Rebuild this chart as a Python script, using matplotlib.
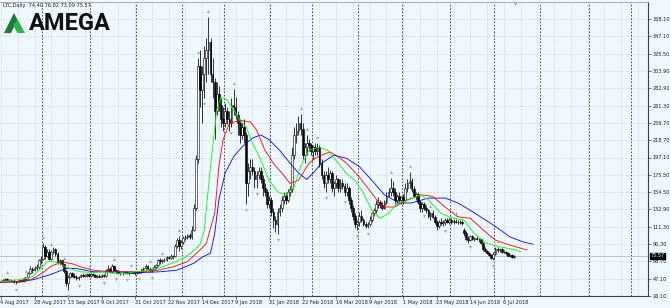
import matplotlib
matplotlib.use('Agg')
import matplotlib.pyplot as plt
from matplotlib.patches import Polygon
import numpy as np

# LTC daily candles (weekday bars, 4 Aug 2017 .. 13 Jul 2018)
opens = [44, 45, 46, 47, 46, 46, 45, 43, 44, 45, 46, 45, 47, 49, 55, 60, 58, 61, 62, 70,
         72, 86, 76, 80, 72, 81, 84, 78, 68, 70, 65, 57, 42, 50, 55, 51, 50, 48, 50, 52,
         51, 52, 53, 51, 53, 52, 50, 51, 50, 52, 51, 58, 60, 56, 63, 58, 57, 55, 54, 55,
         56, 54, 55, 56, 55, 54, 55, 56, 59, 61, 63, 60, 58, 60, 62, 64, 70, 69, 71, 70,
         74, 73, 76, 75, 88, 95, 88, 93, 98, 99, 101, 99, 108, 135, 195, 310, 280, 300, 320, 330,
         340, 300, 290, 255, 275, 262, 245, 240, 255, 245, 240, 262, 260, 250, 240, 225, 235, 225, 165, 180,
         185, 180, 170, 175, 180, 170, 160, 155, 140, 145, 130, 120, 115, 130, 135, 145, 150, 145, 155, 158,
         200, 225, 230, 240, 232, 200, 210, 215, 212, 205, 210, 205, 210, 190, 175, 165, 175, 170, 178, 160,
         165, 170, 160, 165, 162, 155, 160, 145, 135, 125, 115, 117, 125, 120, 115, 113, 115, 120, 128, 132,
         140, 142, 138, 135, 142, 150, 155, 160, 155, 145, 150, 145, 148, 145, 160, 165, 168, 158, 150, 152,
         142, 135, 140, 135, 132, 125, 128, 124, 118, 112, 118, 116, 118, 120, 118, 120, 118, 119, 118, 117,
         118, 108, 104, 97, 95, 100, 96, 98, 97, 96, 92, 84, 82, 79, 77, 73, 78, 84, 83, 84,
         81, 80, 79, 76, 77, 74.40]
highs = [46, 47, 48, 48, 47, 47, 47, 45, 46, 47, 47, 49, 50, 56, 63, 62, 63, 66, 72, 76,
         91, 89, 84, 84, 83, 86, 85, 80, 72, 71, 66, 58, 52, 56, 56, 54, 52, 51, 53, 54,
         53, 54, 55, 54, 55, 53, 52, 53, 53, 53, 60, 64, 62, 66, 64, 60, 58, 56, 56, 57,
         57, 56, 57, 57, 56, 56, 57, 60, 62, 65, 64, 62, 61, 64, 66, 72, 73, 72, 73, 76,
         76, 78, 77, 90, 98, 100, 95, 100, 102, 103, 104, 112, 140, 200, 320, 330, 310, 335, 345, 371,
         345, 320, 295, 290, 285, 270, 260, 265, 260, 255, 270, 282, 272, 255, 245, 240, 245, 228, 190, 195,
         195, 185, 180, 185, 185, 175, 165, 158, 150, 148, 135, 125, 135, 140, 150, 155, 155, 158, 162, 210,
         235, 240, 248, 251, 240, 215, 225, 220, 215, 212, 215, 215, 212, 195, 180, 180, 185, 182, 180, 168,
         175, 172, 170, 170, 165, 165, 162, 148, 138, 128, 120, 130, 132, 122, 118, 118, 125, 130, 135, 145,
         148, 145, 142, 145, 155, 160, 172, 168, 160, 152, 155, 150, 152, 165, 170, 179, 172, 162, 155, 155,
         145, 142, 142, 138, 134, 130, 132, 126, 120, 120, 122, 120, 122, 123, 122, 122, 121, 121, 120, 120,
         120, 110, 106, 100, 102, 101, 99, 100, 98, 97, 93, 86, 83, 80, 78, 80, 86, 86, 85, 85,
         83, 82, 80, 78, 78, 76.82]
lows = [43, 44, 45, 45, 45, 44, 42, 41, 43, 44, 43, 44, 45, 48, 53, 55, 57, 58, 60, 66,
        70, 72, 74, 70, 70, 78, 76, 66, 64, 63, 55, 38, 33, 48, 49, 48, 46, 46, 49, 50,
        49, 50, 50, 50, 51, 49, 48, 49, 49, 50, 50, 56, 55, 55, 57, 55, 53, 52, 52, 53,
        53, 52, 54, 54, 52, 53, 54, 55, 57, 60, 59, 56, 56, 59, 60, 63, 66, 67, 68, 69,
        72, 72, 72, 74, 85, 82, 84, 90, 95, 96, 96, 97, 106, 132, 190, 260, 240, 270, 290, 300,
        290, 270, 220, 250, 255, 235, 230, 235, 238, 230, 235, 250, 245, 225, 215, 220, 215, 140, 150, 170,
        175, 160, 160, 170, 165, 150, 150, 135, 135, 125, 110, 105, 103, 125, 130, 140, 140, 142, 150, 155,
        195, 215, 225, 225, 195, 190, 200, 205, 200, 195, 200, 200, 185, 170, 160, 155, 165, 165, 155, 150,
        160, 155, 155, 158, 150, 150, 140, 130, 120, 110, 108, 112, 118, 112, 110, 110, 112, 118, 125, 128,
        135, 135, 132, 133, 140, 148, 150, 150, 140, 140, 142, 140, 140, 143, 155, 160, 155, 148, 145, 140,
        130, 130, 132, 128, 122, 120, 122, 115, 108, 110, 114, 112, 114, 116, 115, 115, 115, 116, 115, 115,
        114, 100, 95, 92, 94, 95, 94, 95, 93, 90, 82, 80, 78, 76, 72, 70, 77, 81, 81, 79,
        79, 77, 75, 74, 73, 73.09]
closes = [45, 46, 47, 46, 46, 45, 43, 44, 45, 46, 45, 47, 49, 55, 60, 58, 61, 62, 70, 72,
          86, 76, 80, 72, 81, 84, 78, 68, 70, 65, 57, 42, 50, 55, 51, 50, 48, 50, 52, 51,
          52, 53, 51, 53, 52, 50, 51, 50, 52, 51, 58, 60, 56, 63, 58, 57, 55, 54, 55, 56,
          54, 55, 56, 55, 54, 55, 56, 59, 61, 63, 60, 58, 60, 62, 64, 70, 69, 71, 70, 74,
          73, 76, 75, 88, 95, 88, 93, 98, 99, 101, 99, 108, 135, 195, 310, 280, 300, 320, 330, 340,
          300, 290, 255, 275, 262, 245, 240, 255, 245, 240, 262, 260, 250, 240, 225, 235, 225, 165, 180, 185,
          180, 170, 175, 180, 170, 160, 155, 140, 145, 130, 120, 115, 130, 135, 145, 150, 145, 155, 158, 200,
          225, 230, 240, 232, 200, 210, 215, 212, 205, 210, 205, 210, 190, 175, 165, 175, 170, 178, 160, 165,
          170, 160, 165, 162, 155, 160, 145, 135, 125, 115, 117, 125, 120, 115, 113, 115, 120, 128, 132, 140,
          142, 138, 135, 142, 150, 155, 160, 155, 145, 150, 145, 148, 145, 160, 165, 168, 158, 150, 152, 142,
          135, 140, 135, 132, 125, 128, 124, 118, 112, 118, 116, 118, 120, 118, 120, 118, 119, 118, 117, 118,
          116, 104, 97, 95, 100, 96, 98, 97, 96, 92, 84, 82, 79, 77, 73, 78, 84, 83, 84, 81,
          80, 79, 76, 77, 74.4, 75.57]

# Alligator lines (bar index, price)
lips_x = [0, 8, 15, 19, 22, 25, 28, 31, 35, 38, 44, 48, 52, 56, 60, 64, 68, 72, 76, 80, 84, 88, 92, 95,
          97, 100, 103, 105, 108, 111, 114, 117, 120, 124, 128, 132, 136, 140, 143, 147, 152, 156, 161,
          165, 169, 173, 177, 181, 185, 189, 195, 200, 204, 210, 216, 221, 226, 232, 238, 244, 248]
lips_y = [43.8, 46, 50, 60, 68.5, 69, 66, 62, 58, 56, 55, 56, 55, 53.5, 54, 56, 57, 58.5, 61, 65, 69, 74,
          82, 90, 107, 186, 256, 272, 268, 256, 243, 235, 215, 194, 169, 155, 151, 161, 186, 206, 210, 206,
          190, 177, 169, 153, 132, 122, 128, 140, 145, 151, 145, 128, 122, 120, 103, 91, 87, 84, 81]
teeth_x = [0, 8, 15, 20, 24, 29, 34, 38, 44, 52, 63, 73, 82, 89, 95, 98, 102, 104, 106, 109, 114, 119,
           122, 126, 130, 134, 138, 142, 147, 151, 157, 161, 165, 171, 177, 182, 188, 194, 201, 206, 212,
           218, 224, 230, 236, 243, 251]
teeth_y = [42.8, 44, 47, 55, 63, 68, 66, 62, 58, 56, 56, 57, 62, 68.5, 83, 91, 128, 186, 219, 239, 243,
           241, 231, 206, 190, 178, 165, 169, 190, 198, 204, 198, 190, 173, 153, 136, 136, 145, 151, 149,
           136, 124, 122, 108, 95, 89, 83]
jaw_x = [0, 8, 15, 23, 31, 36, 44, 55, 66, 76, 84, 92, 96, 100, 102, 104, 107, 111, 115, 120, 124, 128,
         133, 138, 142, 146, 149, 153, 159, 165, 171, 177, 183, 190, 196, 204, 212, 218, 224, 230, 236,
         243, 249, 254]
jaw_y = [42.8, 44, 46, 52, 60, 60, 56, 56, 55, 56, 58, 66.5, 74, 79, 103, 145, 178, 198, 210, 221, 225,
         219, 206, 190, 178, 170, 178, 190, 200, 196, 186, 169, 151, 141, 141, 147, 147, 141, 132, 122,
         112, 99, 93, 90]

# fractal bars
frac_up = [3, 12, 20, 24, 30, 42, 54, 62, 71, 77, 85, 94, 99, 111, 143, 146, 151, 186, 195, 205, 217, 237]
frac_dn = [7, 32, 37, 49, 55, 60, 66, 72, 76, 97, 110, 117, 122, 132, 155, 164, 170, 175, 202, 212, 224, 235]

month_bars = [20, 43, 65, 87, 107, 129, 149, 171, 192, 215, 236, 258, 281, 301]
time_labels = ['4 Aug 2017', '28 Aug 2017', '15 Sep 2017', '9 Oct 2017', '31 Oct 2017', '22 Nov 2017',
               '14 Dec 2017', '9 Jan 2018', '31 Jan 2018', '22 Feb 2018', '16 Mar 2018', '9 Apr 2018',
               '1 May 2018', '23 May 2018', '14 Jun 2018', '6 Jul 2018']
price_ticks = [368.10, 347.10, 325.50, 303.90, 282.90, 261.30, 239.70, 218.70, 197.10,
               175.50, 154.50, 132.90, 111.30, 90.30, 68.70, 47.10, 26.10]
bid = 75.57

W, H = 670, 308
BG = '#f0f8ff'
X0, DX = 1.0, 2.095          # pixel of bar 0, pixels per bar
PLOT_R, PLOT_T, PLOT_B = 648, 2, 296
PPU = (296 - 19) / (368.10 - 26.10)

fig = plt.figure(figsize=(W / 100, H / 100), dpi=100, facecolor=BG)
ax = fig.add_axes([0, (H - PLOT_B) / H, PLOT_R / W, (PLOT_B - PLOT_T) / H])
ax.set_facecolor(BG)
ax.set_xlim(-X0 / DX, (PLOT_R - X0) / DX)
ax.set_ylim(26.10, 26.10 + (PLOT_B - PLOT_T) / PPU)

# grid
for p in price_ticks:
    ax.axhline(p, color='#c8ccd0', lw=0.5, ls=(0, (2, 2)), zorder=0)
for k in range(0, 320, 8):
    ax.axvline(k, color='#c8ccd0', lw=0.5, ls=(0, (2, 2)), zorder=0)
for b in month_bars:
    ax.axvline(b - 0.5, color='#303030', lw=0.6, ls=(0, (2, 2)), zorder=1)

ax.axhline(bid, color='#b8b8b8', lw=0.6, zorder=1)

# candles
idx = np.arange(len(closes))
o = np.array(opens); c = np.array(closes)
ax.vlines(idx, lows, highs, color='black', lw=0.55, zorder=3)
bull = c >= o
ax.bar(idx[bull], (c - o)[bull], bottom=o[bull], width=0.8, color='white',
       edgecolor='black', lw=0.4, zorder=4)
ax.bar(idx[~bull], (o - c)[~bull], bottom=c[~bull], width=0.8, color='black',
       edgecolor='black', lw=0.4, zorder=4)

# alligator
ax.plot(jaw_x, jaw_y, color='blue', lw=0.6, zorder=5)
ax.plot(teeth_x, teeth_y, color='red', lw=0.6, zorder=5)
ax.plot(lips_x, lips_y, color='lime', lw=0.6, zorder=5)

# fractals
hi = np.array(highs); lo = np.array(lows)
ax.scatter(frac_up, hi[frac_up] + 6 / PPU, marker='^', s=5, color='#a8a8a8', lw=0, zorder=6)
ax.scatter(frac_dn, lo[frac_dn] - 6 / PPU, marker='v', s=5, color='#a8a8a8', lw=0, zorder=6)

# chart shift marker
ax.scatter([len(closes) - 0.5], [26.10 + (PLOT_B - PLOT_T - 1.5) / PPU], marker='v', s=6,
           color='#a0a0a0', lw=0, zorder=6, clip_on=False)

ax.spines['left'].set_visible(False)
ax.spines['top'].set_color('#a0a0a0')
ax.spines['top'].set_linewidth(0.6)
ax.spines['right'].set_color('#404040')
ax.spines['bottom'].set_color('#404040')
ax.spines['right'].set_linewidth(0.8)
ax.spines['bottom'].set_linewidth(0.8)

ax.yaxis.tick_right()
ax.set_yticks(price_ticks)
ax.set_yticklabels(['%.2f' % p for p in price_ticks], fontsize=3.6, color='#202020')
ax.tick_params(axis='y', length=2, width=0.5, pad=1.5, color='#404040')
ax.set_xticks([16 * i for i in range(len(time_labels))])
ax.set_xticklabels([])
ax.tick_params(axis='x', length=2, width=0.5, color='#404040')
for i, t in enumerate(time_labels):
    ax.annotate(t, (16 * i, 0), xycoords=('data', 'axes fraction'), xytext=(-0.5, -6.5),
                textcoords='offset pixels', fontsize=3.6, color='#202020', ha='left', va='center',
                annotation_clip=False)

# bid price box
ax.annotate('%.2f' % bid, (1, bid), xycoords=('axes fraction', 'data'), xytext=(2.5, 0),
            textcoords='offset pixels', fontsize=3.6, color='white', ha='left', va='center',
            bbox=dict(boxstyle='square,pad=0.15', fc='black', ec='black'), annotation_clip=False)

# header text
fig.text(3 / W, 1 - 5.5 / H, 'LTC,Daily  74.40 76.82 73.09 75.57', fontsize=3.6, color='#202020',
         ha='left', va='center')

# logo
def fpx(x, y):
    return (x / W, 1 - y / H)

fig.add_artist(Polygon([fpx(4, 33), fpx(14, 13), fpx(17.5, 20), fpx(11, 33)], closed=True,
                       transform=fig.transFigure, fc='#1b7a35', ec='none'))
fig.add_artist(Polygon([fpx(14, 13), fpx(25, 33), fpx(17.5, 33), fpx(13, 25), fpx(17.5, 20)], closed=True,
                       transform=fig.transFigure, fc='#2fb24a', ec='none'))
fig.text(29 / W, 1 - 24 / H, 'AMEGA', fontsize=17, fontweight='bold', family='Roboto',
         color='#111111', ha='left', va='center')

fig.savefig('out.png', dpi=100, facecolor=BG)
